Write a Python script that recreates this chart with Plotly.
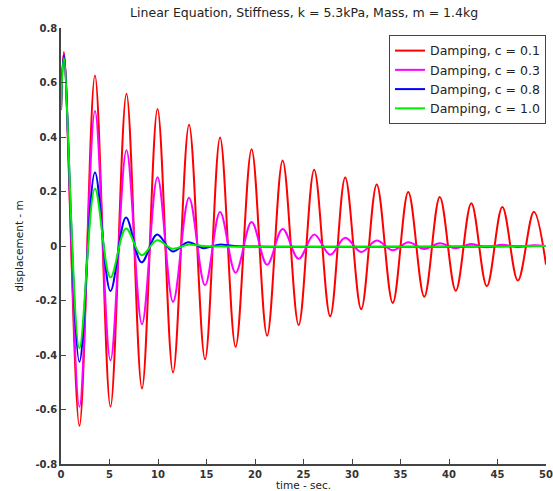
import plotly.graph_objects as go

# Extrema (peaks / troughs)
t_red = [0, 0.3, 1.9, 3.5, 5.1, 6.75, 8.35, 9.95, 11.55, 13.2, 14.85, 16.4, 18.0, 19.65, 21.25,
         22.85, 24.5, 26.1, 27.75, 29.3, 30.95, 32.55, 34.2, 35.8, 37.45, 39.05, 40.7, 42.3,
         43.9, 45.5, 47.1, 48.75, 50]
y_red = [0.5, 0.712, -0.66, 0.626, -0.59, 0.559, -0.523, 0.503, -0.464, 0.445, -0.416, 0.398,
         -0.37, 0.355, -0.329, 0.314, -0.29, 0.28, -0.258, 0.251, -0.232, 0.226, -0.209, 0.198,
         -0.186, 0.18, -0.164, 0.157, -0.148, 0.143, -0.127, 0.126, -0.068]

t_mag = t_red
y_mag = [0.5, 0.705, -0.59, 0.495, -0.42, 0.351, -0.287, 0.252, -0.205, 0.177, -0.144, 0.125,
         -0.098, 0.088, -0.069, 0.062, -0.047, 0.042, -0.032, 0.030, -0.022, 0.020, -0.016,
         0.014, -0.011, 0.010, -0.008, 0.007, -0.005, 0.005, -0.004, 0.003, 0.0]

t_blue = [0, 0.3, 1.9, 3.5, 5.1, 6.7, 8.3, 9.9, 11.5, 13.1, 14.7, 16.3, 17.9, 50]
y_blue = [0.5, 0.70, -0.425, 0.27, -0.165, 0.105, -0.06, 0.042, -0.02, 0.014, -0.008, 0.005, 0.0, 0.0]

t_green = [0, 0.3, 1.9, 3.5, 5.1, 6.7, 8.3, 9.9, 11.5, 13.1, 14.7, 50]
y_green = [0.5, 0.69, -0.375, 0.21, -0.115, 0.064, -0.034, 0.021, -0.01, 0.005, 0.0, 0.0]

names = ["Damping, c = 0.1", "Damping, c = 0.3", "Damping, c = 0.8", "Damping, c = 1.0"]
colors = ["#ff0000", "#ff00ff", "#0000ff", "#00ee00"]

x_ticks = [0, 5, 10, 15, 20, 25, 30, 35, 40, 45, 50]
y_ticks = [-0.8, -0.6, -0.4, -0.2, 0, 0.2, 0.4, 0.6, 0.8]
y_tick_text = ["-0.8", "-0.6", "-0.4", "-0.2", "0", "0.2", "0.4", "0.6", "0.8"]

FONT = "DejaVu Sans"

fig = go.Figure()
for tx, ty, nm, col in zip([t_red, t_mag, t_blue, t_green],
                           [y_red, y_mag, y_blue, y_green], names, colors):
    fig.add_trace(go.Scatter(x=tx, y=ty, mode="lines", name=nm,
                             line=dict(color=col, width=2, shape="spline", smoothing=1)))

axis_common = dict(showgrid=False, zeroline=False, showline=True, linecolor="#444",
                   linewidth=1.5, ticks="inside", ticklen=5, tickcolor="#444",
                   tickfont=dict(family=FONT, size=10, color="#333", weight="bold"),
                   ticklabeloverflow="allow", automargin=False)

fig.update_layout(
    width=553, height=491,
    margin=dict(l=61, r=7, t=28, b=27),
    paper_bgcolor="white", plot_bgcolor="white",
    title=dict(text="Linear Equation, Stiffness, k = 5.3kPa, Mass, m = 1.4kg",
               font=dict(family=FONT, size=12.5, color="#222"),
               x=0.55, xanchor="center", y=0.975, yanchor="middle"),
    xaxis=dict(range=[0, 50], tickvals=x_ticks, ticktext=[str(v) for v in x_ticks],
               title=dict(text="time - sec.", font=dict(family=FONT, size=10.5, color="#222"),
                          standoff=0),
               **axis_common),
    yaxis=dict(range=[-0.8, 0.8], tickvals=y_ticks, ticktext=y_tick_text,
               title=dict(text="displacement - m", font=dict(family=FONT, size=10.5, color="#222"),
                          standoff=10),
               **axis_common),
    legend=dict(x=1.0, xanchor="right", y=0.984, yanchor="top",
                bgcolor="white", bordercolor="#444", borderwidth=1,
                font=dict(family=FONT, size=12.5, color="#222"),
                tracegroupgap=0, itemwidth=30),
    showlegend=True,
)

fig.write_html("out.html")
